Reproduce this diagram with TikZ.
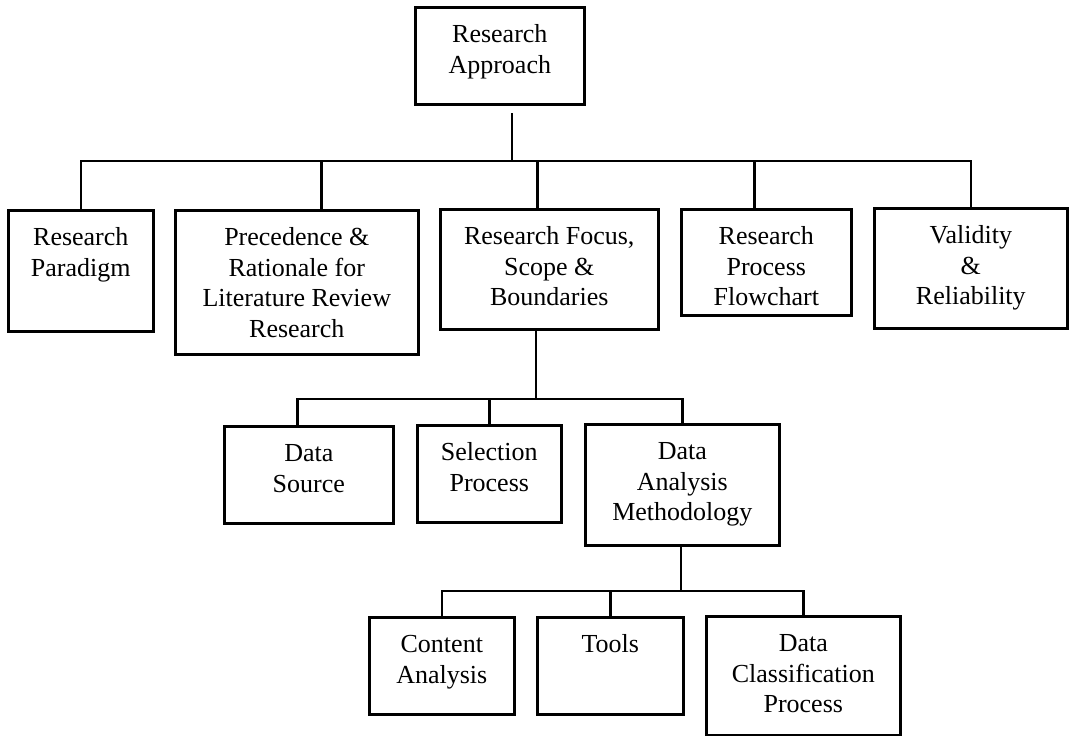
\documentclass[tikz,border=0pt]{standalone}
\usepackage{fontspec}
\setmainfont{Liberation Serif}
% fixed-size cell: width, height, top-aligned centred lines
\newcommand\cell[3]{\parbox[c][#2][t]{#1}{\centering\rule{0pt}{35.5pt}#3}}
\begin{document}
\begin{tikzpicture}[x=1pt,y=-1pt,
  box/.style={draw, line width=2.6pt, inner sep=0pt, anchor=north west,
    font=\fontsize{26pt}{30.5pt}\selectfont},
  link/.style={line width=2.4pt}]
\useasboundingbox (0,0) rectangle (1069,736);

% top level
\node[box] (root) at (414,6) {\cell{169pt}{97pt}{Research\\Approach}};

% first tier
\node[box] (para)  at (7,209)   {\cell{145pt}{121pt}{Research\\Paradigm}};
\node[box] (prec)  at (174,209) {\cell{243pt}{144pt}{Precedence \&\\Rationale for\\Literature Review\\Research}};
\node[box] (focus) at (439,208) {\cell{218pt}{120pt}{Research Focus,\\Scope \&\\Boundaries}};
\node[box] (flow)  at (680,208) {\cell{170pt}{106pt}{Research\\Process\\Flowchart}};
\node[box] (valid) at (873,207) {\cell{193pt}{120pt}{Validity\\\&\\Reliability}};

% second tier
\node[box] (dsrc) at (223,425) {\cell{169pt}{97pt}{Data\\Source}};
\node[box] (sel)  at (416,424) {\cell{144pt}{97pt}{Selection\\Process}};
\node[box] (dam)  at (584,423) {\cell{194pt}{121pt}{Data\\Analysis\\Methodology}};

% third tier
\node[box] (content) at (368,616) {\cell{145pt}{97pt}{Content\\Analysis}};
\node[box] (tools)   at (536,616) {\cell{146pt}{97pt}{Tools}};
\node[box] (dcp)     at (705,615) {\cell{194pt}{119pt}{Data\\Classification\\Process}};

% branch joints
\coordinate (j1) at (512,161);
\coordinate (j2) at (536,399);
\coordinate (j3) at (681,591);

% root to first tier
\draw[link] (j1) -- ++(0,-48);
\draw[link] (j1) -| (para.north);
\draw[link] (j1) -| ([xshift=24.5pt]prec.north);
\draw[link] (j1) -| ([xshift=-12pt]focus.north);
\draw[link] (j1) -| ([xshift=-12pt]flow.north);
\draw[link] (j1) -| (valid.north);

% focus to second tier
\draw[link] (focus.south -| j2) -- (j2);
\draw[link] (j2) -| ([xshift=-11.5pt]dsrc.north);
\draw[link] (j2) -| (sel.north);
\draw[link] (j2) -| (dam.north);

% methodology to third tier
\draw[link] (dam.south -| j3) -- (j3);
\draw[link] (j3) -| (content.north);
\draw[link] (j3) -| (tools.north);
\draw[link] (j3) -| (dcp.north);
\end{tikzpicture}
\end{document}
